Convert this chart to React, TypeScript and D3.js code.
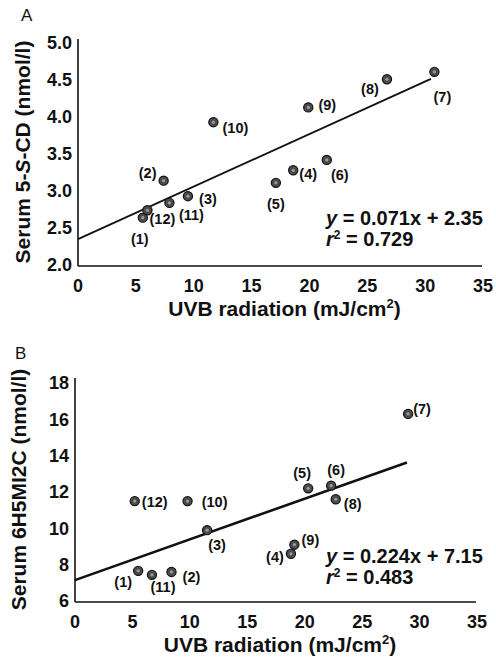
import React from 'react';
import * as d3 from 'd3';

// sample numbers (1)..(12)
const sampleIds = ['1', '2', '3', '4', '5', '6', '7', '8', '9', '10', '11', '12'];

// panel A: UVB vs serum 5-S-CD
const uvbA = [5.6, 7.4, 9.5, 18.6, 17.1, 21.5, 30.8, 26.7, 19.9, 11.7, 7.9, 6.0];
const cdA = [2.64, 3.14, 2.93, 3.28, 3.11, 3.42, 4.61, 4.51, 4.13, 3.93, 2.84, 2.74];
const fitA = { slope: 0.071, intercept: 2.35, xEnd: 30.5 };
const ticksYA = [2.0, 2.5, 3.0, 3.5, 4.0, 4.5, 5.0];

// panel B: UVB vs serum 6H5MI2C
const uvbB = [5.5, 8.4, 11.5, 18.8, 20.3, 22.3, 29.0, 22.7, 19.1, 9.8, 6.7, 5.2];
const micB = [7.66, 7.6, 9.9, 8.6, 12.2, 12.35, 16.3, 11.6, 9.1, 11.5, 7.44, 11.5];
const fitB = { slope: 0.224, intercept: 7.15, xEnd: 28.9 };
const ticksYB = [6, 8, 10, 12, 14, 16, 18];

const ticksX = [0, 5, 10, 15, 20, 25, 30, 35];

// label placement (pixels from the dot)
const labelOffA = [[-3, 21], [-16, -8], [20, 3], [15, 4], [0, 21], [13, 15], [8, 25], [-17, 10], [19, -2], [22, 6], [22, 12], [15, 9]];
const labelOffB = [[-15, 11], [20, 5], [10, 15], [-16, 3], [-6, -15], [5, -16], [14, -5], [17, 5], [16, -5], [27, 1], [11, 12], [20, 1]];

const FONT = '"Liberation Sans", Arial, sans-serif';

type PanelProps = {
  tag: string;
  tagPos: [number, number];
  xs: number[];
  ys: number[];
  offs: number[][];
  fit: { slope: number; intercept: number; xEnd: number };
  yDomain: [number, number];
  yTicks: number[];
  yFmt: (v: number) => string;
  box: { left: number; right: number; top: number; bottom: number; axisTop: number };
  yTitle: React.ReactNode;
  yTitleX: number;
  eqY: number;
  eq: string;
  r2: string;
  lineW: number;
};

const Panel = (p: PanelProps) => {
  const x = d3.scaleLinear().domain([0, 35]).range([p.box.left, p.box.right]);
  const y = d3.scaleLinear().domain(p.yDomain).range([p.box.bottom, p.box.top]);
  const line = d3.line<number>().x((d) => x(d)).y((d) => y(p.fit.slope * d + p.fit.intercept));
  const midY = (p.box.bottom + p.box.axisTop) / 2;

  return (
    <g fontFamily={FONT} fontWeight="bold" fill="#111">
      <text x={p.tagPos[0]} y={p.tagPos[1]} fontSize={17} fontWeight="normal">
        {p.tag}
      </text>
      {/* axes */}
      <line x1={x(0)} x2={x(0)} y1={p.box.bottom + 1} y2={p.box.axisTop} stroke="#111" strokeWidth={1.6} />
      <line x1={x(0)} x2={x(35) - 1} y1={p.box.bottom + 1} y2={p.box.bottom + 1} stroke="#111" strokeWidth={1.6} />
      {ticksX.map((t) => (
        <text key={t} x={x(t)} y={p.box.bottom + 27} fontSize={18} textAnchor="middle">
          {t}
        </text>
      ))}
      {p.yTicks.map((t) => (
        <text key={t} x={p.box.left - 6} y={y(t)} dy="0.36em" fontSize={18} textAnchor="end">
          {p.yFmt(t)}
        </text>
      ))}
      <text x={(x(0) + x(35)) / 2 + 4} y={p.box.bottom + 51} fontSize={21} textAnchor="middle">
        UVB radiation (mJ/cm<tspan fontSize={13} dy={-8}>2</tspan>
        <tspan dy={8}>)</tspan>
      </text>
      <text
        transform={`translate(${p.yTitleX},${midY}) rotate(-90)`}
        fontSize={21}
        textAnchor="middle"
        dy="0.35em"
      >
        {p.yTitle}
      </text>
      {/* regression line */}
      <path d={line([0, p.fit.xEnd]) ?? ''} stroke="#111" strokeWidth={p.lineW} fill="none" />
      {/* points */}
      {p.xs.map((v, i) => (
        <g key={i}>
          <circle cx={x(v)} cy={y(p.ys[i])} r={4.6} fill="#4a4a4a" stroke="#111" strokeWidth={1.2} />
          <circle cx={x(v)} cy={y(p.ys[i])} r={1.6} fill="#9a9a9a" />
          <text
            x={x(v) + p.offs[i][0]}
            y={y(p.ys[i]) + p.offs[i][1]}
            dy="0.35em"
            fontSize={14.5}
            textAnchor="middle"
          >
            ({sampleIds[i]})
          </text>
        </g>
      ))}
      <text x={326} y={p.eqY} fontSize={20}>
        <tspan fontStyle="italic">y</tspan> = {p.eq}
      </text>
      <text x={326} y={p.eqY + 21} fontSize={20}>
        <tspan fontStyle="italic">r</tspan>
        <tspan fontSize={12} dy={-7}>2</tspan>
        <tspan dy={7}> = {p.r2}</tspan>
      </text>
    </g>
  );
};

const App = () => (
  <svg width={496} height={663} style={{ position: 'absolute', left: 0, top: 0, background: '#fff' }}>
    <Panel
      tag="A"
      tagPos={[21, 21]}
      xs={uvbA}
      ys={cdA}
      offs={labelOffA}
      fit={fitA}
      yDomain={[2, 5]}
      yTicks={ticksYA}
      yFmt={d3.format('.1f')}
      box={{ left: 78, right: 483, top: 43, bottom: 265, axisTop: 39 }}
      yTitle={
        <>
          Serum 5-<tspan fontStyle="italic">S</tspan>-CD (nmol/l)
        </>
      }
      yTitleX={23}
      eqY={225}
      eq="0.071x + 2.35"
      r2="0.729"
      lineW={1.8}
    />
    <Panel
      tag="B"
      tagPos={[15, 359]}
      xs={uvbB}
      ys={micB}
      offs={labelOffB}
      fit={fitB}
      yDomain={[6, 18]}
      yTicks={ticksYB}
      yFmt={d3.format('d')}
      box={{ left: 75, right: 477, top: 383, bottom: 601, axisTop: 378 }}
      yTitle="Serum 6H5MI2C (nmol/l)"
      yTitleX={19}
      eqY={563}
      eq="0.224x + 7.15"
      r2="0.483"
      lineW={2.6}
    />
  </svg>
);

export default App;
